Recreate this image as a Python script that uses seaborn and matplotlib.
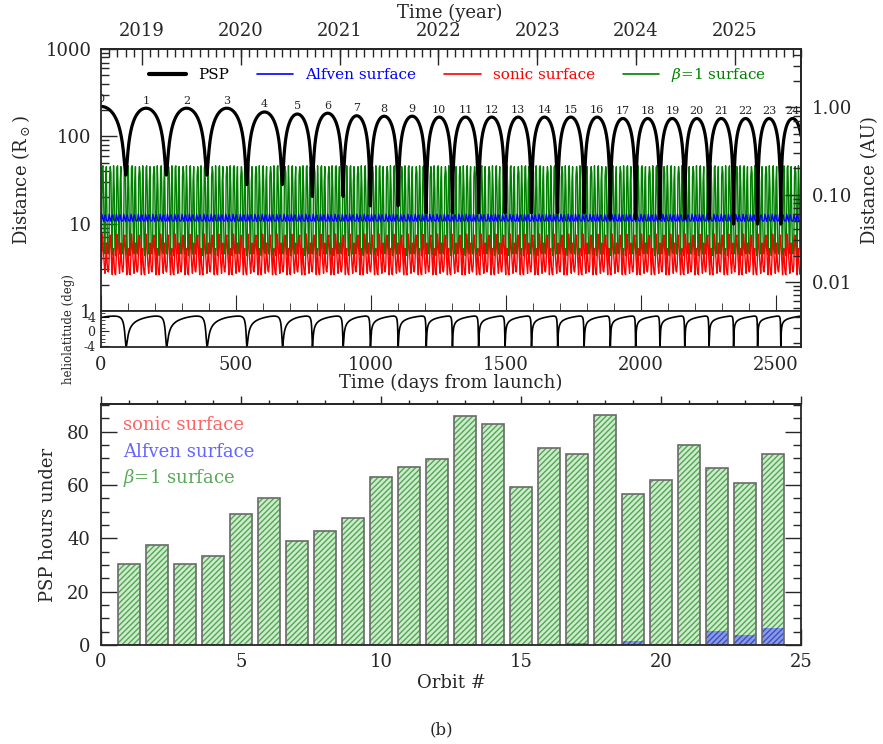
#!/usr/bin/env python3
"""
PSP heliocentric distance against the sonic, Alfven and beta=1 surfaces,
with heliolatitude strip and hours spent under each surface per orbit.
"""
import numpy as np
import matplotlib
matplotlib.use('Agg')
import matplotlib.pyplot as plt
import seaborn as sns
from matplotlib.lines import Line2D
from matplotlib.ticker import (FixedLocator, FixedFormatter, LogLocator,
                               MultipleLocator, NullFormatter)

# ---- top panel: orbit track (days from launch, R_sun) ----
PERI_DAY = [92, 242, 392, 540, 672, 783, 897, 998, 1101, 1205, 1302, 1399,
            1497, 1595, 1692, 1790, 1887, 1981, 2071, 2163, 2253, 2344, 2433, 2519]
PERI_RS = [36, 36, 36, 28, 28, 20.5, 20.5, 16, 16, 13.3, 13.3, 13.3,
           13.3, 13.3, 13.3, 13.3, 11.4, 11.4, 11.4, 11.4, 11.4, 9.9, 9.9, 9.9]
APH_RS = [220, 210, 210, 210, 190, 180, 184, 172, 170, 170, 166, 166, 166,
          166, 166, 166, 166, 160, 160, 160, 160, 160, 160, 160, 160]  # arcs 0..24
LAST_ARC_DAYS = 88
ORBIT_LABELS = [str(i) for i in range(25)]

YEAR_DAY = [152, 518, 884, 1250, 1617, 1983, 2349]
YEAR_LABELS = ['2019', '2020', '2021', '2022', '2023', '2024', '2025']

# solar rotations of each surface (R_sun), repeated along the mission
ROT_DAYS = 27.0
BETA_ROT_A = [4.3, 9, 44, 46, 20, 5.5, 4.5, 30, 45, 12, 4.8]
BETA_ROT_B = [4.5, 6, 35, 45, 38, 8, 4.4, 18, 46, 25, 5.2]
ALFVEN_ROT = [10.8, 12.8, 11.4, 10.6, 12.2, 12.6, 11.0, 10.7]
SONIC_ROT_A = [2.6, 4.0, 7.6, 6.2, 4.6, 3.3, 2.7, 3.6, 6.0, 3.9, 2.9]
SONIC_ROT_B = [2.8, 3.4, 6.8, 7.4, 5.0, 3.6, 2.6, 4.4, 5.2, 3.2, 2.7]

LAT_AMP = 4.2        # deg
LAT_PHASE = 25.0     # deg past perihelion of the latitude minimum
RS_PER_AU = 215.0

# ---- bottom panel: hours under each surface per orbit ----
ORBIT = list(range(1, 25))
HOURS_BETA = [30.5, 37.4, 30.5, 33.5, 49.3, 55.3, 39.0, 42.6, 47.8, 63.0, 66.6, 69.8,
              85.8, 82.9, 59.1, 73.8, 71.5, 86.3, 56.8, 61.9, 75.1, 66.3, 60.8, 71.8]
HOURS_ALFVEN = [0, 0, 0, 0, 0, 0, 0, 0, 0, 0, 0, 0,
                0, 0, 0, 0, 0.6, 0.4, 1.5, 0.3, 0.3, 5.4, 3.8, 6.4]
HOURS_SONIC = [0, 0, 0, 0, 0, 0, 0, 0, 0, 0, 0, 0,
               0, 0, 0, 0, 0, 0, 0, 0, 0, 0.3, 0.3, 0.5]

X_END = 2594


def psp_track(t):
    """Distance and true anomaly along the read-off orbits (Kepler per arc)."""
    bounds = np.array([-PERI_DAY[0]] + PERI_DAY + [PERI_DAY[-1] + LAST_ARC_DAYS], float)
    rp_b = np.array([PERI_RS[0]] + PERI_RS + [PERI_RS[-1]], float)
    aph = np.array(APH_RS, float)
    k = np.clip(np.searchsorted(bounds, t, side='right') - 1, 0, len(aph) - 1)
    t0, t1 = bounds[k], bounds[k + 1]
    period = t1 - t0
    first = (t - t0) < period / 2
    dt = np.where(first, t - t0, t - t1)
    rp = np.where(first, rp_b[k], rp_b[k + 1])
    ra = aph[k]
    a = (ra + rp) / 2
    e = (ra - rp) / (ra + rp)
    M = 2 * np.pi * dt / period
    E = M + 0.85 * e * np.sign(np.sin(M))
    for _ in range(40):
        E = E - (E - e * np.sin(E) - M) / (1 - e * np.cos(E))
    r = a * (1 - e * np.cos(E))
    nu = 2 * np.arctan2(np.sqrt(1 + e) * np.sin(E / 2), np.sqrt(1 - e) * np.cos(E / 2))
    return r, nu


def tile_rotation(profiles, t_end):
    """Repeat the given rotation profiles one after another up to t_end."""
    n_rot = int(np.ceil(t_end / ROT_DAYS)) + 1
    days, vals = [], []
    for n in range(n_rot):
        prof = profiles[n % len(profiles)]
        step = ROT_DAYS / len(prof)
        days.extend(n * ROT_DAYS + i * step for i in range(len(prof)))
        vals.extend(prof)
    days, vals = np.array(days), np.array(vals, float)
    keep = days <= t_end + ROT_DAYS / 8
    return days[keep], vals[keep]


sns.set_style('ticks')
plt.rcParams['font.family'] = ['DejaVu Serif']
plt.rcParams['mathtext.fontset'] = 'dejavuserif'
plt.rcParams['axes.linewidth'] = 1.3
plt.rcParams['hatch.linewidth'] = 1.0

W, H = 883, 744
fig = plt.figure(figsize=(W / 100, H / 100), dpi=100)


def frac(x0, y0, x1, y1):
    return [x0 / W, 1 - y1 / H, (x1 - x0) / W, (y1 - y0) / H]


ax_d = fig.add_axes(frac(101, 49, 801, 311))
ax_h = fig.add_axes(frac(101, 311, 801, 347))
ax_au = fig.add_axes(frac(101, 49, 801, 347), facecolor='none')
ax_b = fig.add_axes(frac(101, 404, 801, 645))

FS = 13
TICK = dict(labelsize=FS, width=1.0)
MAJ, MIN = 11.5, 6

# ---- distance panel ----
t = np.arange(0, X_END + 0.05, 0.1)
r_psp, nu = psp_track(t)
d_b, v_b = tile_rotation([BETA_ROT_A, BETA_ROT_B], X_END)
d_a, v_a = tile_rotation([ALFVEN_ROT], X_END)
d_s, v_s = tile_rotation([SONIC_ROT_A, SONIC_ROT_B], X_END)

ax_d.set_yscale('log')
sns.lineplot(x=d_b, y=v_b, ax=ax_d, color='#008000', lw=1.0, estimator=None, sort=False)
sns.lineplot(x=d_s, y=v_s, ax=ax_d, color='#ff0000', lw=1.0, estimator=None, sort=False)
sns.lineplot(x=d_a, y=v_a, ax=ax_d, color='#0000ff', lw=1.0, estimator=None, sort=False)
sns.lineplot(x=t, y=r_psp, ax=ax_d, color='black', lw=2.3, estimator=None, sort=False)

bounds = [-PERI_DAY[0]] + PERI_DAY + [PERI_DAY[-1] + LAST_ARC_DAYS]
for j, lab in enumerate(ORBIT_LABELS):
    xm = (bounds[j] + bounds[j + 1]) / 2
    ax_d.text(xm, APH_RS[j] * 1.07, lab, ha='center', va='bottom', fontsize=8, clip_on=True)

ax_d.set_xlim(0, X_END)
ax_d.set_ylim(1, 1000)
ax_d.set_xlabel('')
ax_d.set_ylabel(r'Distance (R$_\odot$)', fontsize=FS)
ax_d.yaxis.set_label_coords(-0.099, 0.5)
ax_d.yaxis.set_major_locator(FixedLocator([1, 10, 100, 1000]))
ax_d.yaxis.set_major_formatter(FixedFormatter(['1', '10', '100', '1000']))
ax_d.yaxis.set_minor_locator(LogLocator(base=10, subs=np.arange(2, 10)))
ax_d.yaxis.set_minor_formatter(NullFormatter())
ax_d.xaxis.set_major_locator(MultipleLocator(500))
ax_d.xaxis.set_minor_locator(MultipleLocator(100))
ax_d.tick_params(axis='x', which='both', direction='in', bottom=True, top=False,
                 labelbottom=False)
ax_d.tick_params(axis='y', which='both', direction='in', left=True, right=False, pad=7, **TICK)
ax_d.tick_params(which='major', length=MAJ)
ax_d.tick_params(which='minor', length=MIN)

sec = ax_d.secondary_xaxis('top')
sec.set_xticks(YEAR_DAY, labels=YEAR_LABELS)
step = (YEAR_DAY[-1] - YEAR_DAY[0]) / (len(YEAR_DAY) - 1) / 12
months = np.arange(YEAR_DAY[0] - 12 * step, X_END, step)
sec.xaxis.set_minor_locator(FixedLocator(months[(months > 0) & (months < X_END)]))
sec.tick_params(which='both', direction='in', pad=6.5, **TICK)
sec.tick_params(which='major', length=MAJ)
sec.tick_params(which='minor', length=MIN)
fig.text(450 / W, 1 - 13 / H, 'Time (year)', ha='center', va='center', fontsize=FS)

handles = [Line2D([], [], color='black', lw=3),
           Line2D([], [], color='#0000ff', lw=1.2),
           Line2D([], [], color='#ff0000', lw=1.2),
           Line2D([], [], color='#008000', lw=1.2)]
names = ['PSP', 'Alfven surface', 'sonic surface', r'$\beta$=1 surface']
ax_d.legend(handles, names, loc='center', bbox_to_anchor=(0.51, 0.90), ncol=4,
            frameon=False, fontsize=11, handlelength=2.4, columnspacing=1.8,
            handletextpad=0.8, labelcolor=['black', '#0000ff', '#ff0000', '#008000'])

# ---- heliolatitude strip ----
lat = -LAT_AMP * np.cos(nu - np.radians(LAT_PHASE))
sns.lineplot(x=t, y=lat, ax=ax_h, color='black', lw=1.2, estimator=None, sort=False)
ax_h.set_xlim(0, X_END)
ax_h.set_ylim(-4.3, 5.6)
ax_h.set_yticks([-4, 0, 4], labels=['-4', '0', '4'])
ax_h.yaxis.set_minor_locator(MultipleLocator(1))
ax_h.xaxis.set_major_locator(MultipleLocator(500))
ax_h.tick_params(axis='x', which='both', length=0, pad=6.5, labelsize=FS)
ax_h.tick_params(axis='y', which='major', direction='in', length=6, labelsize=9, pad=4)
ax_h.tick_params(axis='y', which='minor', direction='in', length=3)
ax_h.set_ylabel('heliolatitude (deg)', fontsize=8.5)
ax_h.yaxis.set_label_coords(-0.037, 0.5)
ax_h.set_xlabel('Time (days from launch)', fontsize=FS)
ax_h.xaxis.set_label_coords(0.5, -0.75)

# ---- AU axis on the right, spanning both upper panels ----
h_d, h_h = 311 - 49, 347 - 311
au_hi = 1000 / RS_PER_AU
au_lo = (1 / RS_PER_AU) / 10 ** (3 * h_h / h_d)
ax_au.set_yscale('log')
ax_au.set_ylim(au_lo, au_hi)
ax_au.xaxis.set_visible(False)
for side in ['left', 'top', 'bottom']:
    ax_au.spines[side].set_visible(False)
ax_au.yaxis.tick_right()
ax_au.yaxis.set_label_position('right')
ax_au.yaxis.set_major_locator(FixedLocator([0.01, 0.1, 1.0]))
ax_au.yaxis.set_major_formatter(FixedFormatter(['0.01', '0.10', '1.00']))
ax_au.yaxis.set_minor_locator(LogLocator(base=10, subs=np.arange(2, 10)))
ax_au.yaxis.set_minor_formatter(NullFormatter())
ax_au.tick_params(axis='y', which='both', direction='in', pad=8, **TICK)
ax_au.tick_params(which='major', length=MAJ)
ax_au.tick_params(which='minor', length=MIN)
ax_au.set_ylabel('Distance (AU)', fontsize=FS, rotation=90)
ax_au.yaxis.set_label_coords(1.086, (347 - 180) / 298)

# ---- bar panel ----
HATCH = '//////'
sns.barplot(x=ORBIT, y=HOURS_BETA, ax=ax_b, native_scale=True, width=0.8,
            color='#cfeacf', saturation=1, edgecolor='#4faa4f', hatch=HATCH,
            linewidth=0, errorbar=None)
sns.barplot(x=ORBIT, y=HOURS_ALFVEN, ax=ax_b, native_scale=True, width=0.8,
            color='#8a9ae6', saturation=1, edgecolor='#3a50c0', hatch=HATCH,
            linewidth=0, errorbar=None)
sns.barplot(x=ORBIT, y=HOURS_SONIC, ax=ax_b, native_scale=True, width=0.8,
            color='#e07070', saturation=1, edgecolor='#c03030', hatch=HATCH,
            linewidth=0, errorbar=None)
ax_b.bar(ORBIT, HOURS_BETA, width=0.8, fill=False, edgecolor='#6a6a6a', linewidth=1.2)

ax_b.set_xlim(0, 25)
ax_b.set_ylim(0, 90.4)
ax_b.xaxis.set_major_locator(MultipleLocator(5))
ax_b.xaxis.set_minor_locator(MultipleLocator(1))
ax_b.yaxis.set_major_locator(MultipleLocator(20))
ax_b.yaxis.set_minor_locator(MultipleLocator(5))
ax_b.tick_params(which='both', direction='in', bottom=True, left=True, right=True,
                 top=False, **TICK)
ax_b.tick_params(axis='x', pad=6)
ax_b.tick_params(axis='y', pad=8)
ax_b.tick_params(which='major', length=MAJ)
ax_b.tick_params(which='minor', length=MIN)
top_b = ax_b.secondary_xaxis('top')
top_b.xaxis.set_major_locator(MultipleLocator(5))
top_b.xaxis.set_minor_locator(MultipleLocator(1))
top_b.tick_params(which='both', direction='out', labeltop=False, width=1.0)
top_b.tick_params(which='major', length=5.5)
top_b.tick_params(which='minor', length=3)
ax_b.set_xlabel('Orbit #', fontsize=FS)
ax_b.xaxis.set_label_coords(0.5, -0.122)
ax_b.set_ylabel('PSP hours under', fontsize=FS)
ax_b.yaxis.set_label_coords(-0.063, 0.5)

key = [('sonic surface', '#ff6464', 0.913),
       ('Alfven surface', '#6464ff', 0.80),
       (r'$\beta$=1 surface', '#5aaa5a', 0.693)]
for txt, col, yy in key:
    ax_b.text(0.031, yy, txt, color=col, fontsize=13, ha='left', va='center',
              transform=ax_b.transAxes)

fig.text(441 / W, 1 - 730 / H, '(b)', ha='center', va='center', fontsize=12)

fig.savefig('out.png', dpi=100)
